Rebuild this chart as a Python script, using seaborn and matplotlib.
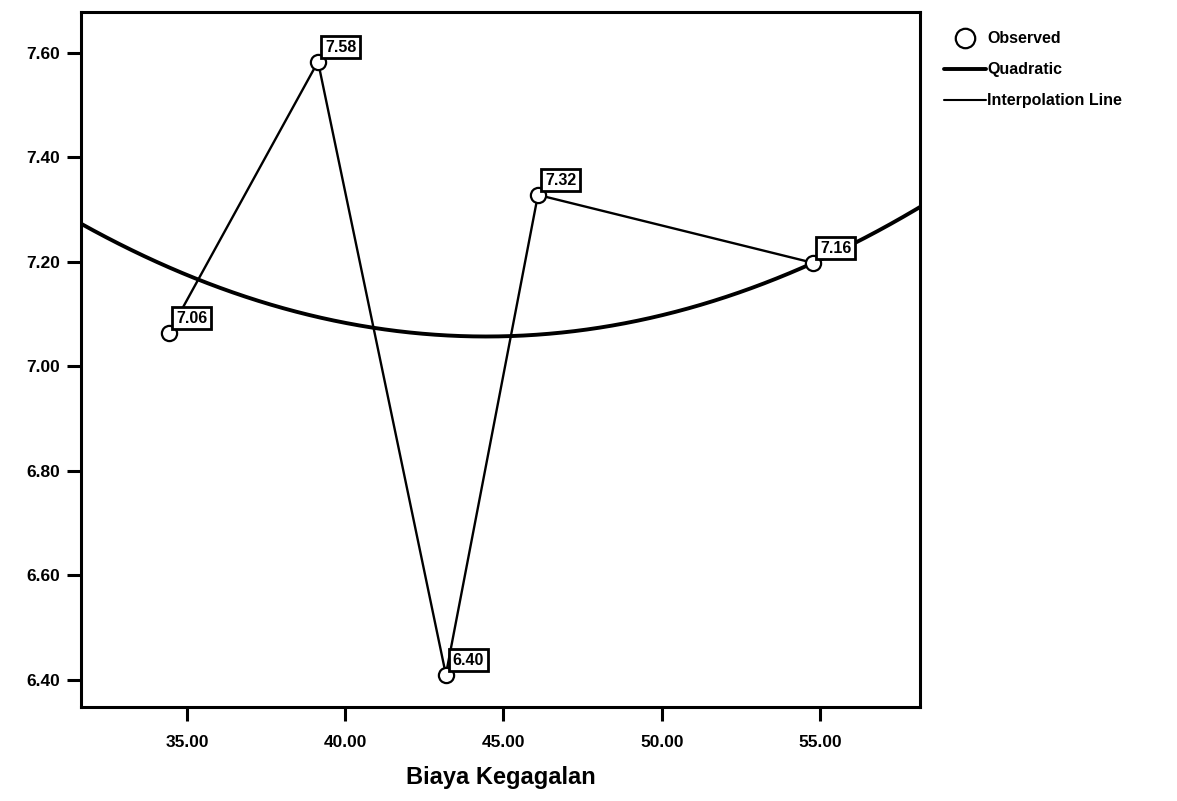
import numpy as np
import pandas as pd
import matplotlib
matplotlib.use("Agg")
import matplotlib.pyplot as plt
import seaborn as sns
from matplotlib.lines import Line2D

# -----------------------------
# data
# -----------------------------
biaya = [34.43, 39.14, 43.18, 46.09, 54.78]
nilai = [7.064, 7.583, 6.410, 7.328, 7.198]
label_txt = ["7.06", "7.58", "6.40", "7.32", "7.16"]

# quadratic curve (vertex form)
quad_a = 0.001318
quad_h = 44.45
quad_k = 7.057

x_ticks = [35, 40, 45, 50, 55]
y_ticks = [6.40, 6.60, 6.80, 7.00, 7.20, 7.40, 7.60]

df = pd.DataFrame({"Biaya": biaya, "Nilai": nilai})

xlim = (31.65, 58.16)
xs = np.linspace(xlim[0], xlim[1], 200)
fit = pd.DataFrame({"Biaya": xs, "Nilai": quad_a * (xs - quad_h) ** 2 + quad_k})

# -----------------------------
# plot
# -----------------------------
sns.set_style("ticks")
plt.rcParams["font.family"] = ["Liberation Sans", "DejaVu Sans"]
plt.rcParams["font.weight"] = "bold"
plt.rcParams["text.color"] = "black"
plt.rcParams["axes.labelcolor"] = "black"
plt.rcParams["xtick.color"] = "black"
plt.rcParams["ytick.color"] = "black"
plt.rcParams["axes.edgecolor"] = "black"

fig = plt.figure(figsize=(11.77, 8.01), dpi=100)
ax = fig.add_axes([0.0688, 0.1174, 0.7128, 0.8676])

sns.lineplot(data=fit, x="Biaya", y="Nilai", color="black", linewidth=2.8, ax=ax)
sns.lineplot(data=df, x="Biaya", y="Nilai", sort=False, color="black",
             linewidth=1.7, ax=ax)
sns.scatterplot(data=df, x="Biaya", y="Nilai", s=120, facecolor="white",
                edgecolor="black", linewidth=1.6, zorder=5, ax=ax)

for bx, ny, t in zip(biaya, nilai, label_txt):
    ax.annotate(t, (bx, ny), xytext=(5, 5), textcoords="offset points",
                fontsize=11.5, fontweight="bold", ha="left", va="bottom",
                bbox=dict(boxstyle="square,pad=0.22", fc="white", ec="black", lw=2),
                zorder=6)

ax.set_xlim(*xlim)
ax.set_ylim(6.348, 7.678)
ax.set_xticks(x_ticks)
ax.set_xticklabels([f"{v:.2f}" for v in x_ticks])
ax.set_yticks(y_ticks)
ax.set_yticklabels([f"{v:.2f}" for v in y_ticks])
ax.tick_params(axis="both", direction="out", length=10, width=2.2,
               labelsize=12.5, pad=5)
ax.tick_params(axis="x", pad=10)
for s in ax.spines.values():
    s.set_linewidth(2.2)
    s.set_visible(True)

ax.set_xlabel("Biaya Kegagalan", fontsize=17, fontweight="bold", labelpad=12)
ax.set_ylabel("")

handles = [
    Line2D([], [], marker="o", linestyle="none", markersize=14,
           markerfacecolor="white", markeredgecolor="black", markeredgewidth=1.6),
    Line2D([], [], color="black", linewidth=2.8),
    Line2D([], [], color="black", linewidth=1.5),
]
fig.legend(handles, ["Observed", "Quadratic", "Interpolation Line"],
           loc="upper left", bbox_to_anchor=(0.790, 0.979), frameon=False,
           fontsize=11.5, handlelength=2.6, handletextpad=0.1, labelspacing=1.0)

fig.savefig("out.png", dpi=100)
plt.close(fig)
